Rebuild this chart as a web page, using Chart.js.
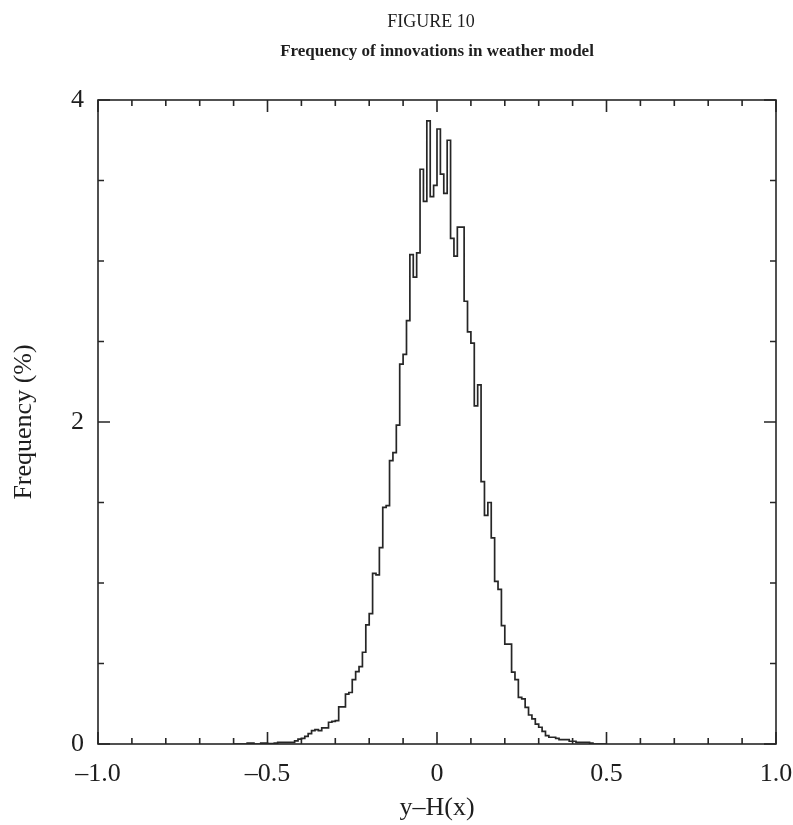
<!DOCTYPE html>
<html>
<head>
<meta charset="utf-8">
<title>Frequency of innovations in weather model</title>
<script src="https://cdn.jsdelivr.net/npm/chart.js@4.4.1/dist/chart.umd.min.js"></script>
<style>
  html, body { margin: 0; padding: 0; background: #fff; }
  #wrap { position: relative; width: 793px; height: 825px; }
</style>
</head>
<body>
<div id="wrap"><canvas id="histChart"></canvas></div>
<script>
// histogram bins: left edge of first bin and width, values in %
const binStart = -0.60;
const binWidth = 0.01;
const frequency = [
  0, 0, 0, 0, 0.005, 0.005, 0, 0, 0.006, 0.006,
  0.003, 0.003, 0.005, 0.01, 0.01, 0.01, 0.01, 0.01, 0.02, 0.03,
  0.035, 0.047, 0.065, 0.083, 0.089, 0.083, 0.10, 0.10, 0.135, 0.14,
  0.145, 0.23, 0.23, 0.31, 0.32, 0.40, 0.45, 0.48, 0.57, 0.74,
  0.81, 1.06, 1.05, 1.22, 1.47, 1.48, 1.76, 1.81, 1.98, 2.36,
  2.42, 2.63, 3.04, 2.90, 3.05, 3.57, 3.37, 3.87, 3.40, 3.47,
  3.82, 3.54, 3.42, 3.75, 3.14, 3.03, 3.21, 3.21, 2.75, 2.56,
  2.49, 2.10, 2.23, 1.63, 1.42, 1.50, 1.28, 1.01, 0.96, 0.735,
  0.62, 0.62, 0.446, 0.40, 0.29, 0.28, 0.228, 0.18, 0.156, 0.124,
  0.104, 0.078, 0.052, 0.042, 0.042, 0.035, 0.027, 0.027, 0.027, 0.017,
  0.017, 0.01, 0.01, 0.01, 0.01, 0.005, 0, 0, 0, 0
];

const xTickValues = [-1, -0.5, 0, 0.5, 1];
const xTickLabels = ['–1.0', '–0.5', '0', '0.5', '1.0'];
const yTickValues = [0, 2, 4];
const yTickLabels = ['0', '2', '4'];
const xMinorStep = 0.1;
const yMinorStep = 0.5;

const serif = '"Liberation Serif", "DejaVu Serif", serif';
const inkColor = '#262626';
const textColor = '#1e1e1e';

// each bin becomes a flat segment from its left to its right edge
const histPoints = [];
frequency.forEach((f, i) => {
  const left = binStart + i * binWidth;
  histPoints.push({ x: left, y: f }, { x: left + binWidth, y: f });
});

const labelFor = (value, values, labels) => {
  const i = values.findIndex(v => Math.abs(v - value) < 1e-6);
  return i >= 0 ? labels[i] : '';
};

// box around the plot with inward ticks on all four sides
const frameTicks = {
  id: 'frameTicks',
  afterDatasetsDraw(chart) {
    const { ctx, chartArea: a, scales: { x, y } } = chart;
    ctx.save();
    ctx.strokeStyle = inkColor;
    ctx.lineWidth = 1.6;
    ctx.strokeRect(a.left, a.top, a.right - a.left, a.bottom - a.top);
    ctx.beginPath();
    const nx = Math.round((x.max - x.min) / xMinorStep);
    for (let i = 0; i <= nx; i++) {
      const v = x.min + i * xMinorStep;
      const px = x.getPixelForValue(v);
      const len = labelFor(v, xTickValues, xTickLabels) !== '' ? 12 : 6;
      ctx.moveTo(px, a.bottom); ctx.lineTo(px, a.bottom - len);
      ctx.moveTo(px, a.top); ctx.lineTo(px, a.top + len);
    }
    const ny = Math.round((y.max - y.min) / yMinorStep);
    for (let i = 0; i <= ny; i++) {
      const v = y.min + i * yMinorStep;
      const py = y.getPixelForValue(v);
      const len = labelFor(v, yTickValues, yTickLabels) !== '' ? 12 : 6;
      ctx.moveTo(a.left, py); ctx.lineTo(a.left + len, py);
      ctx.moveTo(a.right, py); ctx.lineTo(a.right - len, py);
    }
    ctx.stroke();
    ctx.restore();
  }
};

// figure number and caption above the plot, centred on the plot
const figureTitles = {
  id: 'figureTitles',
  afterDraw(chart) {
    const { ctx, chartArea: a } = chart;
    const cx = (a.left + a.right) / 2;
    ctx.save();
    ctx.fillStyle = textColor;
    ctx.textAlign = 'center';
    ctx.textBaseline = 'middle';
    ctx.font = '18px ' + serif;
    ctx.fillText('FIGURE 10', cx - 6, 22);
    ctx.font = 'bold 17px ' + serif;
    ctx.fillText('Frequency of innovations in weather model', cx, 52);
    ctx.restore();
  }
};

new Chart(document.getElementById('histChart'), {
  type: 'line',
  data: {
    datasets: [{
      label: 'Frequency',
      data: histPoints,
      borderColor: inkColor,
      borderWidth: 1.7,
      pointRadius: 0,
      tension: 0,
      fill: false
    }]
  },
  options: {
    responsive: true,
    maintainAspectRatio: false,
    animation: false,
    layout: { padding: { top: 100, right: 17, bottom: 0, left: 0 } },
    plugins: {
      legend: { display: false },
      tooltip: { enabled: false }
    },
    scales: {
      x: {
        type: 'linear',
        min: -1,
        max: 1,
        afterFit: (scale) => {
          scale.height = 81;
          scale.paddingLeft = 0;
          scale.paddingRight = 0;
        },
        grid: { display: false, drawTicks: false },
        border: { display: false },
        ticks: {
          stepSize: xMinorStep,
          autoSkip: false,
          maxRotation: 0,
          padding: 15,
          color: textColor,
          font: { family: serif, size: 26 },
          callback: (value) => labelFor(value, xTickValues, xTickLabels)
        },
        title: {
          display: true,
          text: 'y–H(x)',
          color: textColor,
          font: { family: serif, size: 26 },
          padding: { top: 0, bottom: 1 }
        }
      },
      y: {
        min: 0,
        max: 4,
        afterFit: (scale) => {
          scale.width = 98;
          scale.paddingTop = 0;
          scale.paddingBottom = 0;
        },
        grid: { display: false, drawTicks: false },
        border: { display: false },
        ticks: {
          stepSize: yMinorStep,
          autoSkip: false,
          padding: 14,
          color: textColor,
          font: { family: serif, size: 26 },
          callback: (value) => labelFor(value, yTickValues, yTickLabels)
        },
        title: {
          display: true,
          text: 'Frequency (%)',
          color: textColor,
          font: { family: serif, size: 26 },
          padding: { top: 9, bottom: 0 }
        }
      }
    }
  },
  plugins: [frameTicks, figureTitles]
});
</script>
</body>
</html>
